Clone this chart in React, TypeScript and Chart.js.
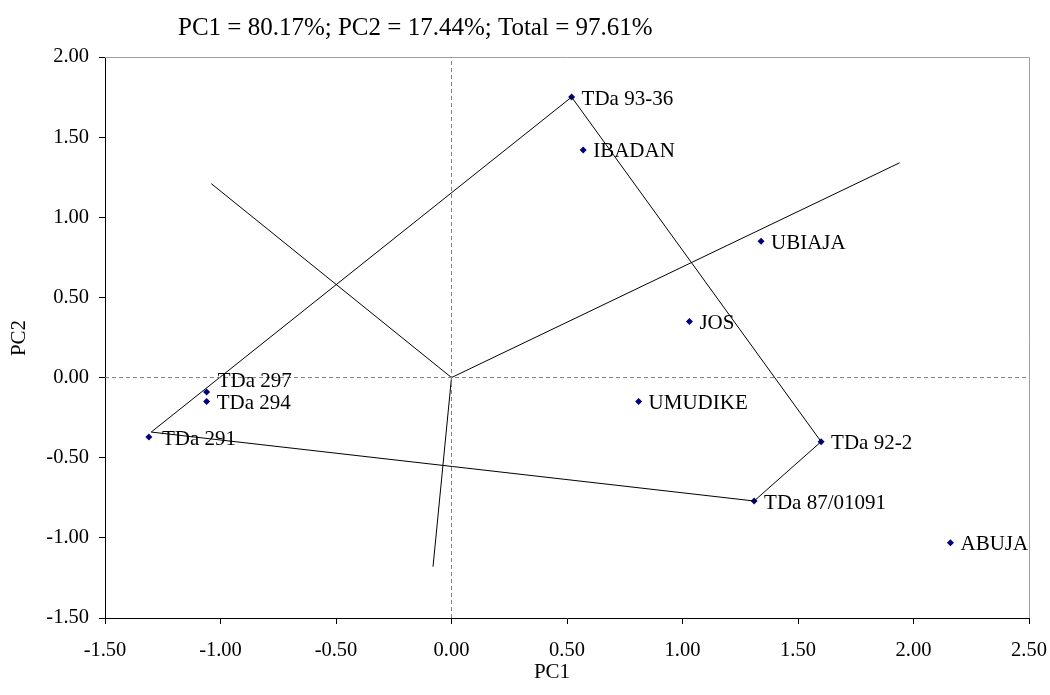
import React, { useEffect, useRef } from "react";
import { Chart, registerables } from "chart.js";

Chart.register(...registerables);

const pointNames = [
  "TDa 93-36", "IBADAN", "UBIAJA", "JOS", "UMUDIKE", "TDa 92-2",
  "TDa 87/01091", "ABUJA", "TDa 297", "TDa 294", "TDa 291",
];
const pc1Values = [0.52, 0.57, 1.34, 1.03, 0.81, 1.6, 1.31, 2.16, -1.06, -1.06, -1.31];
const pc2Values = [1.75, 1.42, 0.85, 0.35, -0.15, -0.4, -0.77, -1.03, -0.09, -0.15, -0.37];

const hullX = [-1.3, 0.52, 1.6, 1.31, -1.3];
const hullY = [-0.34, 1.75, -0.4, -0.77, -0.34];

const rayEndX = [-1.04, 1.94, -0.08];
const rayEndY = [1.21, 1.34, -1.18];

const xTicks = [-1.5, -1.0, -0.5, 0.0, 0.5, 1.0, 1.5, 2.0, 2.5];
const yTicks = [-1.5, -1.0, -0.5, 0.0, 0.5, 1.0, 1.5, 2.0];

const titleText = "PC1 = 80.17%; PC2 = 17.44%; Total = 97.61%";
const xTitle = "PC1";
const yTitle = "PC2";

const FONT = "'Liberation Serif', 'Times New Roman', serif";

export default function App() {
  const ref = useRef<HTMLCanvasElement | null>(null);

  useEffect(() => {
    if (!ref.current) return;
    const pts = pc1Values.map((x, i) => ({ x, y: pc2Values[i] }));
    const hull = hullX.map((x, i) => ({ x, y: hullY[i] }));
    const rays = rayEndX.map((x, i) => ({
      type: "line" as const,
      data: [{ x: 0, y: 0 }, { x, y: rayEndY[i] }],
      borderColor: "#000000",
      borderWidth: 1,
      pointRadius: 0,
      showLine: true,
      fill: false,
    }));

    const textPlugin = {
      id: "texts",
      beforeDatasetsDraw(chart: any) {
        const { ctx, chartArea } = chart;
        ctx.save();
        ctx.strokeStyle = "#a0a0a0";
        ctx.lineWidth = 1;
        ctx.beginPath();
        ctx.moveTo(chartArea.left, chartArea.top + 0.5);
        ctx.lineTo(chartArea.right + 0.5, chartArea.top + 0.5);
        ctx.lineTo(chartArea.right + 0.5, chartArea.bottom);
        ctx.stroke();
        ctx.restore();
      },
      afterDatasetsDraw(chart: any) {
        const { ctx } = chart;
        const meta = chart.getDatasetMeta(chart.data.datasets.length - 1);
        ctx.save();
        ctx.fillStyle = "#000000";
        ctx.font = `21px ${FONT}`;
        ctx.textAlign = "left";
        ctx.textBaseline = "middle";
        meta.data.forEach((el: any, i: number) => {
          let dx = 10;
          let dy = 2;
          if (pointNames[i] === "TDa 297") { dx = 11; dy = -11; }
          if (pointNames[i] === "TDa 291") { dx = 13; dy = 3; }
          ctx.fillText(pointNames[i], el.x + dx, el.y + dy);
        });
        ctx.font = `25px ${FONT}`;
        ctx.fillText(titleText, 178, 28);
        ctx.font = `21px ${FONT}`;
        ctx.textAlign = "center";
        ctx.fillText(xTitle, 552, 672);
        ctx.translate(19, 338);
        ctx.rotate(-Math.PI / 2);
        ctx.fillText(yTitle, 0, 0);
        ctx.restore();
      },
    };

    const chart = new Chart(ref.current, {
      type: "scatter",
      data: {
        datasets: [
          {
            type: "line",
            data: [{ x: 0, y: -1.5 }, { x: 0, y: 2 }],
            borderColor: "#808080",
            borderWidth: 1,
            borderDash: [4, 3],
            pointRadius: 0,
            fill: false,
          },
          {
            type: "line",
            data: [{ x: -1.5, y: 0 }, { x: 2.5, y: 0 }],
            borderColor: "#808080",
            borderWidth: 1,
            borderDash: [4, 3],
            pointRadius: 0,
            fill: false,
          },
          {
            type: "line",
            data: hull,
            borderColor: "#000000",
            borderWidth: 1,
            pointRadius: 0,
            fill: false,
          },
          ...rays,
          {
            type: "scatter",
            data: pts,
            pointStyle: "rectRot",
            pointRadius: 3.5,
            backgroundColor: "#000080",
            borderColor: "#000080",
            borderWidth: 0,
          },
        ] as any,
      },
      options: {
        animation: false,
        responsive: false,
        events: [],
        layout: { padding: { top: 57, right: 0, left: 0, bottom: 0 } },
        plugins: {
          legend: { display: false },
          tooltip: { enabled: false },
          title: { display: false },
        },
        scales: {
          x: {
            type: "linear",
            min: -1.5,
            max: 2.5,
            afterFit: (s: any) => { s.height = 77; s.paddingRight = 21; },
            afterBuildTicks: (s: any) => { s.ticks = xTicks.map((v) => ({ value: v })); },
            ticks: {
              callback: (v: any) => Number(v).toFixed(2),
              font: { family: FONT, size: 20.5 },
              color: "#000000",
              padding: 14,
              maxRotation: 0,
            },
            grid: { drawOnChartArea: false, drawTicks: true, tickLength: 6, color: "#000000" },
            border: { color: "#000000", width: 1 },
          },
          y: {
            type: "linear",
            min: -1.5,
            max: 2,
            afterFit: (s: any) => { s.width = 105; },
            afterBuildTicks: (s: any) => { s.ticks = yTicks.map((v) => ({ value: v })); },
            ticks: {
              callback: (v: any) => Number(v).toFixed(2),
              font: { family: FONT, size: 20.5 },
              color: "#000000",
              padding: 10,
            },
            grid: { drawOnChartArea: false, drawTicks: true, tickLength: 6, color: "#000000" },
            border: { color: "#000000", width: 1 },
          },
        },
      },
      plugins: [textPlugin],
    });
    return () => chart.destroy();
  }, []);

  return (
    <div style={{ position: "fixed", left: 0, top: 0, width: 1050, height: 695, background: "#ffffff" }}>
      <canvas ref={ref} width={1050} height={695} />
    </div>
  );
}
